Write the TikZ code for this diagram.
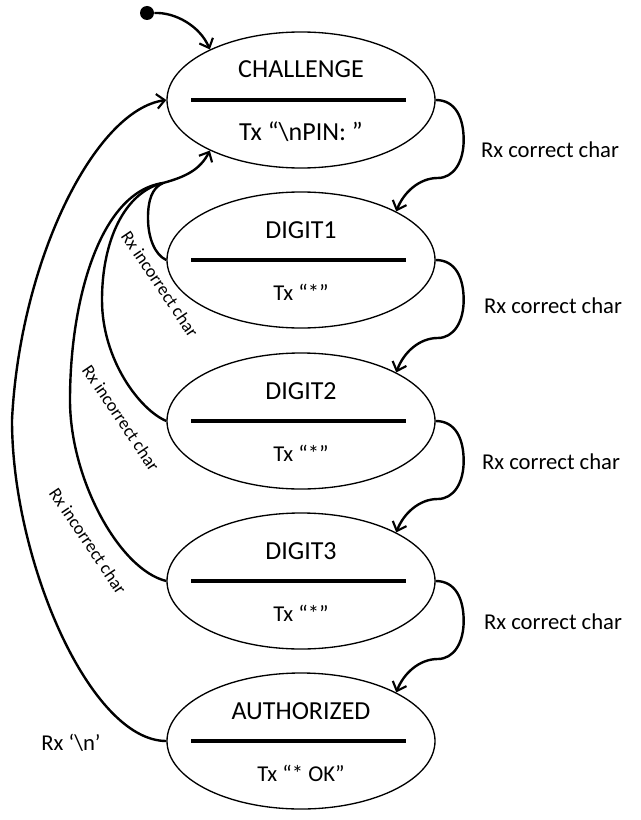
\documentclass[tikz,border=0pt]{standalone}
\usepackage{fontspec}
\setmainfont{Carlito}
\usetikzlibrary{shapes.geometric,arrows.meta,calc}
\begin{document}
\begin{tikzpicture}[x=0.75pt,y=-0.75pt,
  state/.style={ellipse,draw,line width=1pt,minimum width=201pt,minimum height=102pt,inner sep=0pt},
  title/.style={font=\fontsize{19.5}{23}\selectfont,inner sep=0pt},
  bigtx/.style={font=\fontsize{19.5}{23}\selectfont,inner sep=0pt},
  txt/.style={font=\fontsize{17}{20}\selectfont,inner sep=0pt},
  divider/.style={line width=2.5pt},
  conn/.style={line width=1.8pt,-{Straight Barb[length=6pt,width=11pt,line width=1.6pt]}},
  plain/.style={line width=1.8pt},
  lbl/.style={font=\fontsize{17}{20}\selectfont,inner sep=0pt},
  smalllbl/.style={font=\fontsize{13.5}{16}\selectfont,inner sep=0pt,rotate=-56}]
\fill[white] (0,0) rectangle (640,820);
\useasboundingbox (0,0) rectangle (640,820);

% states
\node[state] (ch) at (301,100) {};
\node[state] (d1) at (301,260) {};
\node[state] (d2) at (301,421) {};
\node[state] (d3) at (301,581) {};
\node[state] (au) at (301,741) {};

\node[title] (tch) at ($(ch.center)+(0,-31)$) {CHALLENGE};
\node[bigtx] (xch) at ($(ch.center)+(0,32)$) {Tx “\textbackslash nPIN: ”};
\node[title] (td1) at ($(d1.center)+(0,-30)$) {DIGIT1};
\node[txt] (xd1) at ($(d1.center)+(0,32)$) {Tx “*”};
\node[title] (td2) at ($(d2.center)+(0,-30)$) {DIGIT2};
\node[txt] (xd2) at ($(d2.center)+(0,32)$) {Tx “*”};
\node[title] (td3) at ($(d3.center)+(0,-30)$) {DIGIT3};
\node[txt] (xd3) at ($(d3.center)+(0,32)$) {Tx “*”};
\node[title] (tau) at ($(au.center)+(0,-30)$) {AUTHORIZED};
\node[txt] (xau) at ($(au.center)+(0,32)$) {Tx “* OK”};

\foreach \s in {ch,d1,d2,d3,au}{
  \draw[divider] ($(\s.center)+(-110,0)$) -- ($(\s.center)+(105,0)$);
}

% initial
\node[circle,fill,minimum size=10.5pt,inner sep=0pt] (init) at (147,13) {};
\draw[conn] (init.east) .. controls (175,12) and (200,26) .. (ch.151);

% correct transitions
\foreach \a/\b in {ch/d1,d1/d2,d2/d3,d3/au}{
  \draw[conn] (\a.east) .. controls ($(\a.east)+(20,0)$) and ($(\a.east)+(28,18)$) .. ($(\a.east)+(28,40)$)
     .. controls ($(\a.east)+(28,62)$) and ($(\a.east)+(18,78)$) .. ($(\a.east)+(2,78)$)
     .. controls ($(\a.east)+(-16,78)$) and ($(\a.east)+(-32,92)$) .. (\b.27);
}
\node[lbl] (l1) at (550,150) {Rx correct char};
\node[lbl] (l2) at (553,306) {Rx correct char};
\node[lbl] (l3) at (551,462) {Rx correct char};
\node[lbl] (l4) at (553,622) {Rx correct char};

% incorrect transitions
\coordinate (m) at (163,183);
\draw[plain] (d1.west) .. controls (155,255) and (148,238) .. (148,218) .. controls (148,200) and (152,188) .. (m);
\draw[plain] (d2.west) .. controls (140,410) and (102,360) .. (102,300) .. controls (102,240) and (125,192) .. (m);
\draw[plain] (d3.west) .. controls (120,570) and (70,480) .. (70,400) .. controls (70,300) and (100,192) .. (m);
\draw[conn] (m) .. controls (185,177) and (200,170) .. (ch.209);

\node[smalllbl] (i1) at (160,284) {Rx incorrect char};
\node[smalllbl] (i2) at (121,418) {Rx incorrect char};
\node[smalllbl] (i3) at (88,541) {Rx incorrect char};

% reset
\draw[conn] (au.west) .. controls (90,741) and (12,560) .. (12,420) .. controls (20,260) and (95,110) .. (ch.west);
\node[lbl] (rn) at (71,743) {Rx ‘\textbackslash n’};
\end{tikzpicture}
\end{document}
